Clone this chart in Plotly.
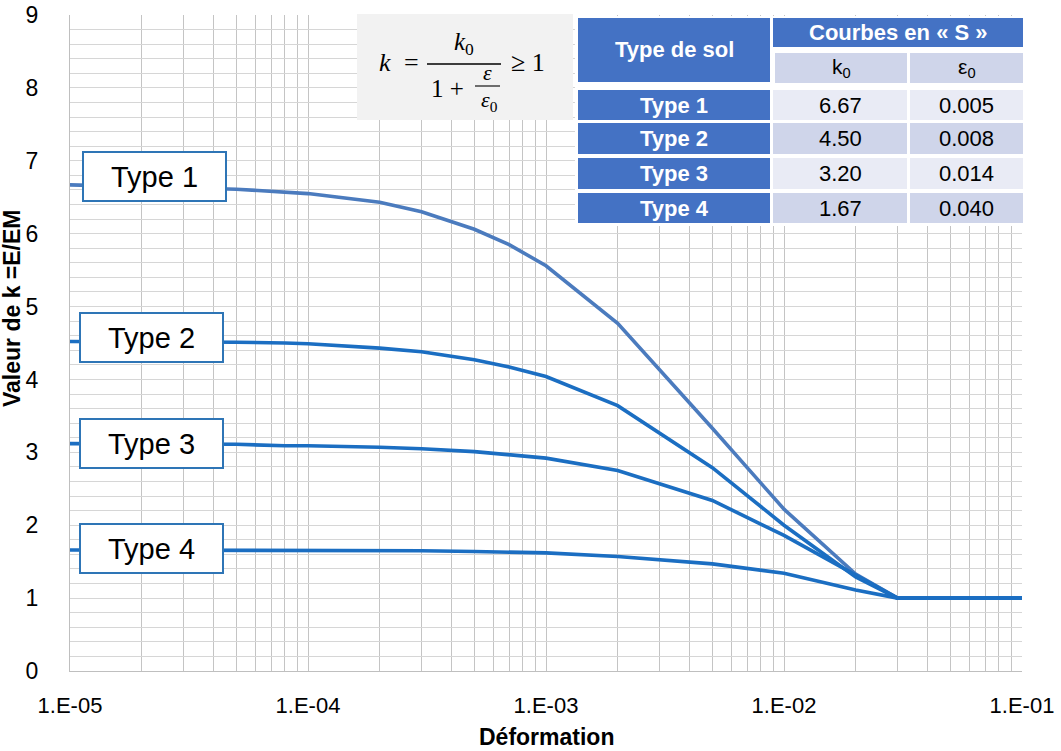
import plotly.graph_objects as go

# ---------------- data ----------------
strain = [1e-5, 2e-5, 3e-5, 5e-5, 8e-5, 1e-4, 2e-4, 3e-4, 5e-4, 7e-4,
          1e-3, 2e-3, 5e-3, 1e-2, 2e-2, 3e-2, 1e-1]
k_type1 = [6.67, 6.65, 6.63, 6.61, 6.57, 6.55, 6.43, 6.30, 6.06, 5.85,
           5.56, 4.77, 3.33, 2.22, 1.33, 1.00, 1.00]
k_type2 = [4.52, 4.52, 4.51, 4.51, 4.50, 4.49, 4.43, 4.38, 4.27, 4.17,
           4.04, 3.64, 2.79, 2.00, 1.29, 1.00, 1.00]
k_type3 = [3.12, 3.12, 3.11, 3.11, 3.09, 3.09, 3.07, 3.05, 3.01, 2.97,
           2.92, 2.75, 2.34, 1.86, 1.31, 1.00, 1.00]
k_type4 = [1.66, 1.66, 1.66, 1.66, 1.66, 1.66, 1.66, 1.65, 1.64, 1.63,
           1.62, 1.57, 1.47, 1.34, 1.11, 1.00, 1.00]

soil_types = ["Type 1", "Type 2", "Type 3", "Type 4"]
k0_values = ["6.67", "4.50", "3.20", "1.67"]
eps0_values = ["0.005", "0.008", "0.014", "0.040"]

x_tick_vals = [1e-5, 1e-4, 1e-3, 1e-2, 1e-1]
x_tick_text = ["1.E-05", "1.E-04", "1.E-03", "1.E-02", "1.E-01"]
y_tick_labels = ["0", "1", "2", "3", "4", "5", "6", "7", "8", "9"]

# ---------------- styling ----------------
FONT = "Liberation Sans, Arial, sans-serif"
SERIF = "Liberation Serif, DejaVu Serif, serif"
line_colors = ["#4B7BBE", "#1B6EC2", "#1B6EC2", "#1B6EC2"]
DARK = "#4472C4"
LIGHT1 = "#E9EBF5"
LIGHT2 = "#CFD5EA"

W, H = 1061, 751
L, R, T, B = 70, 1022, 15, 671   # plot area in pixels


def X(px):
    return (px - L) / (R - L)


def Y(py):
    return (B - py) / (B - T)


fig = go.Figure()
for name, ys, col in zip(soil_types, [k_type1, k_type2, k_type3, k_type4], line_colors):
    fig.add_trace(go.Scatter(x=strain, y=ys, mode="lines", name=name,
                             line=dict(color=col, width=3.6), showlegend=False))

# grid positions
x_grid = []
for e in range(-5, -1):
    for m in range(1, 10):
        x_grid.append(m * 10 ** e)
x_grid.append(1e-1)
x_text = []
for v in x_grid:
    txt = ""
    for tv, tt in zip(x_tick_vals, x_tick_text):
        if abs(v - tv) / tv < 1e-9:
            txt = tt
    x_text.append(txt)

y_grid = [round(i * 0.2, 1) for i in range(46)]
y_text = [y_tick_labels[i // 5] if i % 5 == 0 else "" for i in range(46)]

shapes = []
annotations = []

# label boxes on the curves
label_boxes = [(154, 176), (151, 337), (151, 443), (151, 548)]
for name, (cx, cy) in zip(soil_types, label_boxes):
    annotations.append(dict(xref="paper", yref="paper", x=X(cx), y=Y(cy),
                            xanchor="center", yanchor="middle", text=name,
                            showarrow=False, font=dict(family=FONT, size=29, color="#000"),
                            bgcolor="white", bordercolor="#2E75B6", borderwidth=2,
                            borderpad=0, width=141, height=47))

# formula box
shapes.append(dict(type="rect", xref="paper", yref="paper", x0=X(357), x1=X(573),
                   y0=Y(120), y1=Y(14), fillcolor="#F2F2F2", line=dict(width=0),
                   layer="above"))


def ftxt(text, cx, cy, size=24):
    annotations.append(dict(xref="paper", yref="paper", x=X(cx), y=Y(cy),
                            xanchor="center", yanchor="middle", text=text,
                            showarrow=False, font=dict(family=SERIF, size=size, color="#000")))


ftxt("<i>k</i>", 385, 62, 26)
ftxt("=", 411, 62, 26)
ftxt("<i>k</i><sub>0</sub>", 464, 44, 25)
ftxt("1 +", 447, 88, 25)
ftxt("<i>ε</i>", 487, 73, 22)
ftxt("<i>ε</i><sub>0</sub>", 489, 101, 22)
ftxt("≥ 1", 528, 62, 26)
shapes.append(dict(type="line", xref="paper", yref="paper", x0=X(427), x1=X(501),
                   y0=Y(64), y1=Y(64), line=dict(color="#000", width=1.3), layer="above"))
shapes.append(dict(type="line", xref="paper", yref="paper", x0=X(475), x1=X(500),
                   y0=Y(86), y1=Y(86), line=dict(color="#000", width=1.1), layer="above"))

# table
shapes.append(dict(type="rect", xref="paper", yref="paper", x0=X(575), x1=X(1026),
                   y0=Y(226), y1=Y(16), fillcolor="white", line=dict(width=0), layer="above"))


def cell(x0, x1, y0, y1, color, text, bold=False, size=21, tcolor="#000"):
    shapes.append(dict(type="rect", xref="paper", yref="paper", x0=X(x0), x1=X(x1),
                       y0=Y(y1), y1=Y(y0), fillcolor=color, line=dict(width=0), layer="above"))
    annotations.append(dict(xref="paper", yref="paper", x=X((x0 + x1) / 2),
                            y=Y((y0 + y1) / 2), xanchor="center", yanchor="middle",
                            text=("<b>%s</b>" % text) if bold else text, showarrow=False,
                            font=dict(family=FONT, size=size, color=tcolor)))


cell(578, 770, 18, 82, DARK, "Type de sol", bold=True, size=22, tcolor="white")
cell(773, 1023, 18, 47, DARK, "Courbes en « S »", bold=True, size=22, tcolor="white")
cell(775, 907, 53, 83, LIGHT2, "k<sub>0</sub>", size=21)
cell(910, 1023, 53, 83, LIGHT2, "ε<sub>0</sub>", size=21)
row_y = [(90, 120), (123, 154), (158, 189), (193, 223)]
for i, (name, k0, e0) in enumerate(zip(soil_types, k0_values, eps0_values)):
    y0, y1 = row_y[i]
    bg = LIGHT1 if i % 2 == 0 else LIGHT2
    cell(578, 770, y0, y1, DARK, name, bold=True, size=22, tcolor="white")
    cell(773, 907, y0, y1, bg, k0, size=22)
    cell(910, 1023, y0, y1, bg, e0, size=22)

# axis titles
annotations.append(dict(xref="paper", yref="paper", x=X(546), y=Y(737), xanchor="center",
                        yanchor="middle", text="<b>Déformation</b>", showarrow=False,
                        font=dict(family=FONT, size=23, color="#000")))
annotations.append(dict(xref="paper", yref="paper", x=X(12), y=Y(308), xanchor="center",
                        yanchor="middle", text="<b>Valeur de k =E/EM</b>", showarrow=False,
                        textangle=-90, font=dict(family=FONT, size=23, color="#000")))

fig.update_layout(
    width=W, height=H,
    margin=dict(l=L, r=W - R, t=T, b=H - B, pad=0, autoexpand=False),
    paper_bgcolor="white", plot_bgcolor="white",
    font=dict(family=FONT, color="#000"),
    shapes=shapes, annotations=annotations,
    xaxis=dict(type="log", range=[-5, -1], tickmode="array", tickvals=x_grid,
               ticktext=x_text, showgrid=True, gridcolor="#C4C4C4", gridwidth=1,
               showline=True, linecolor="#BFBFBF", zeroline=False, automargin=False,
               ticks="outside", ticklen=15, tickcolor="rgba(0,0,0,0)",
               tickfont=dict(size=22, color="#000")),
    yaxis=dict(range=[0, 9], tickmode="array", tickvals=y_grid, ticktext=y_text,
               showgrid=True, gridcolor="#D6D6D6", gridwidth=1, automargin=False,
               showline=True, linecolor="#BFBFBF", zeroline=False,
               ticks="outside", ticklen=26, tickcolor="rgba(0,0,0,0)",
               tickfont=dict(size=23, color="#000")),
)

fig.write_html("out.html", config={"displayModeBar": False},
               post_script="document.body.style.margin='0px';document.body.style.padding='0px';")
